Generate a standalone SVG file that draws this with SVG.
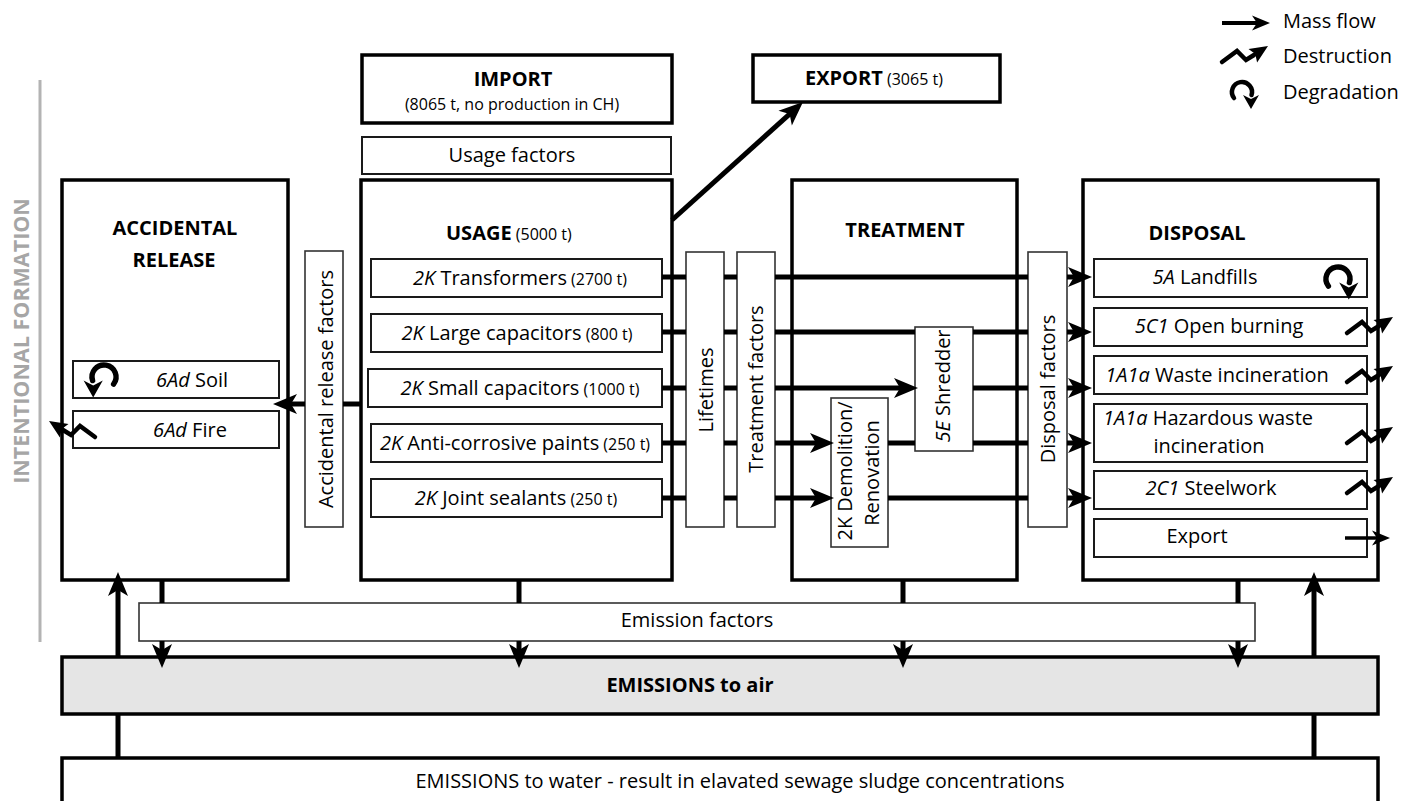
<svg xmlns="http://www.w3.org/2000/svg" width="1413" height="801" viewBox="0 0 1413 801">
<style>
text { font-family: "Open Sans", "Liberation Sans", sans-serif; fill: #000; }
.t { font-size: 20px; }
.s { font-size: 16px; }
.b { font-weight: bold; }
.n { font-weight: normal; }
.i { font-style: italic; }
.mid { text-anchor: middle; }
.box { fill: #fff; stroke: #000; stroke-width: 3.5; }
.item { fill: #fff; stroke: #1a1a1a; stroke-width: 2; }
.fac { fill: #fff; stroke: #333; stroke-width: 1.6; }
.flow { fill: none; stroke: #000; stroke-width: 5; }
.thin { fill: none; stroke: #000; stroke-width: 3.5; }
.ico { fill: none; stroke: #000; stroke-width: 4.5; stroke-linecap: round; stroke-linejoin: miter; }
</style>
<defs>
<marker id="ah" viewBox="-12 -12 28 24" refX="0" refY="0" markerWidth="28" markerHeight="24" markerUnits="userSpaceOnUse" orient="auto">
<path d="M14,0 L-10,-10 L-4,0 L-10,10 Z" fill="#000"/>
</marker>
<marker id="ahs" viewBox="-10 -9 22 18" refX="0" refY="0" markerWidth="22" markerHeight="18" markerUnits="userSpaceOnUse" orient="auto">
<path d="M10,0 L-8,-7.5 L-3,0 L-8,7.5 Z" fill="#000"/>
</marker>
<g id="destr">
<path class="ico" d="M0,0 L15,-11 L24,-2 L32,-7"/>
<path d="M46,-16 L35.1,0.45 L33.3,-7.9 L26.5,-13.05 Z" fill="#000"/>
</g>
<g id="degr">
<path class="ico" d="M-8,6 A10,10 0 1 1 9.5,3"/>
<path d="M9,17 L1,3 L9,7 L17,3 Z" fill="#000"/>
</g>
</defs>

<g id="intentional-formation">
<line x1="40" y1="80" x2="40" y2="642" stroke="#b3b3b3" stroke-width="3"/>
<text class="b mid" font-size="21.5" style="fill:#a6a6a6" transform="translate(29,341) rotate(-90)">INTENTIONAL FORMATION</text>
</g>

<g id="legend">
<line x1="1222" y1="23" x2="1260" y2="23" stroke="#000" stroke-width="4" marker-end="url(#ahs)"/>
<text class="t" x="1283" y="28">Mass flow</text>
<use href="#destr" transform="translate(1222,62)"/>
<text class="t" x="1283" y="63">Destruction</text>
<use href="#degr" transform="translate(1242,92)"/>
<text class="t" x="1283" y="99">Degradation</text>
</g>

<g id="import">
<rect class="box" x="362" y="55" width="310" height="68"/>
<text class="t b mid" x="513" y="86">IMPORT</text>
<text class="s mid" x="512" y="110">(8065 t, no production in CH)</text>
</g>

<g id="export">
<rect class="box" x="753" y="55" width="247" height="47"/>
<text class="t b" x="805" y="85">EXPORT<tspan class="s n"> (3065 t)</tspan></text>
</g>

<g id="usage-factors">
<rect class="item" x="362" y="137" width="309" height="37"/>
<text class="t mid" x="512" y="162">Usage factors</text>
</g>

<g id="accidental-release">
<rect class="box" x="62" y="180" width="226" height="400"/>
<text class="t b mid" x="175" y="235">ACCIDENTAL</text>
<text class="t b mid" x="174" y="267">RELEASE</text>
</g>
<g id="soil">
<rect class="item" x="73" y="361" width="206" height="37"/>
<text class="t mid" x="192" y="387"><tspan class="i">6Ad</tspan> Soil</text>
</g>
<g id="fire">
<rect class="item" x="73" y="411" width="206" height="37"/>
<text class="t mid" x="190" y="437"><tspan class="i">6Ad</tspan> Fire</text>
</g>

<g id="accidental-release-factors">
<rect class="fac" x="305" y="251" width="38" height="276"/>
<text class="t mid" transform="translate(333,389) rotate(-90)">Accidental release factors</text>
</g>

<g id="usage">
<rect class="box" x="361" y="180" width="311" height="400"/>
<text class="t b" x="446" y="240">USAGE<tspan class="s n"> (5000 t)</tspan></text>
</g>
<g id="transformers">
<rect class="item" x="371" y="259" width="291" height="38"/>
<text class="t mid" x="520" y="285"><tspan class="i">2K</tspan> Transformers<tspan class="s"> (2700 t)</tspan></text>
</g>
<g id="large-capacitors">
<rect class="item" x="371" y="314" width="291" height="38"/>
<text class="t mid" x="517" y="340"><tspan class="i">2K</tspan> Large capacitors<tspan class="s"> (800 t)</tspan></text>
</g>
<g id="small-capacitors">
<rect class="item" x="368" y="369" width="294" height="38"/>
<text class="t mid" x="520" y="395"><tspan class="i">2K</tspan> Small capacitors<tspan class="s"> (1000 t)</tspan></text>
</g>
<g id="paints">
<rect class="item" x="371" y="424" width="291" height="38"/>
<text class="t mid" x="515" y="450"><tspan class="i">2K</tspan> Anti-corrosive paints<tspan class="s"> (250 t)</tspan></text>
</g>
<g id="sealants">
<rect class="item" x="371" y="479" width="291" height="38"/>
<text class="t mid" x="516" y="505"><tspan class="i">2K</tspan> Joint sealants<tspan class="s"> (250 t)</tspan></text>
</g>

<g id="lifetimes">
<rect class="fac" x="686" y="252" width="38" height="275"/>
<text class="t mid" transform="translate(713,390) rotate(-90)">Lifetimes</text>
</g>
<g id="treatment-factors">
<rect class="fac" x="737" y="252" width="38" height="275"/>
<text class="t mid" transform="translate(763,389) rotate(-90)">Treatment factors</text>
</g>

<g id="treatment">
<rect class="box" x="792" y="180" width="225" height="400"/>
<text class="t b mid" x="905" y="237">TREATMENT</text>
</g>
<g id="demolition">
<rect class="fac" x="831" y="398" width="57" height="149"/>
<text class="t mid" transform="translate(852,471) rotate(-90)">2K Demolition/</text>
<text class="t mid" transform="translate(879,473) rotate(-90)">Renovation</text>
</g>
<g id="shredder">
<rect class="fac" x="915" y="327" width="58" height="124"/>
<text class="t mid" transform="translate(950,386) rotate(-90)"><tspan class="i">5E</tspan> Shredder</text>
</g>

<g id="disposal-factors">
<rect class="fac" x="1028" y="252" width="39" height="275"/>
<text class="t mid" transform="translate(1055,389) rotate(-90)">Disposal factors</text>
</g>

<g id="disposal">
<rect class="box" x="1083" y="180" width="295" height="400"/>
<text class="t b mid" x="1197" y="240">DISPOSAL</text>
</g>
<g id="landfills">
<rect class="item" x="1094" y="259" width="273" height="38"/>
<text class="t mid" x="1205" y="284"><tspan class="i">5A</tspan> Landfills</text>
</g>
<g id="open-burning">
<rect class="item" x="1094" y="308" width="273" height="38"/>
<text class="t mid" x="1219" y="333"><tspan class="i">5C1</tspan> Open burning</text>
</g>
<g id="waste-incineration">
<rect class="item" x="1094" y="356" width="273" height="38"/>
<text class="t mid" x="1217" y="382"><tspan class="i">1A1a</tspan> Waste incineration</text>
</g>
<g id="hazardous-incineration">
<rect class="item" x="1094" y="404" width="273" height="58"/>
<text class="t mid" x="1208" y="425"><tspan class="i">1A1a</tspan> Hazardous waste</text>
<text class="t mid" x="1209" y="453">incineration</text>
</g>
<g id="steelwork">
<rect class="item" x="1094" y="471" width="273" height="38"/>
<text class="t mid" x="1211" y="495"><tspan class="i">2C1</tspan> Steelwork</text>
</g>
<g id="disposal-export">
<rect class="item" x="1094" y="519" width="273" height="38"/>
<text class="t mid" x="1197" y="543">Export</text>
</g>

<g id="emission-factors">
<rect class="fac" x="139" y="603" width="1116" height="38"/>
<text class="t mid" x="697" y="627">Emission factors</text>
</g>
<g id="emissions-air">
<rect x="62" y="657" width="1316" height="57" fill="#e5e5e5" stroke="#000" stroke-width="3.5"/>
<text class="t b mid" x="690" y="692">EMISSIONS to air</text>
</g>
<g id="emissions-water">
<rect class="box" x="62" y="758" width="1316" height="70" stroke-width="3"/>
<text class="t mid" x="740" y="788">EMISSIONS to water - result in elavated sewage sludge concentrations</text>
</g>

<g id="connectors">
<path class="flow" d="M662,277 H686 M724,277 H737 M775,277 H1028"/>
<path class="flow" d="M1067,277 H1078" marker-end="url(#ah)"/>
<path class="flow" d="M662,332 H686 M724,332 H737 M775,332 H915 M973,332 H1028"/>
<path class="flow" d="M1067,332 H1078" marker-end="url(#ah)"/>
<path class="flow" d="M662,388 H686 M724,388 H737"/>
<path class="flow" d="M775,388 H904" marker-end="url(#ah)"/>
<path class="flow" d="M973,388 H1028"/>
<path class="flow" d="M1067,388 H1078" marker-end="url(#ah)"/>
<path class="flow" d="M662,443 H686 M724,443 H737"/>
<path class="flow" d="M775,443 H820" marker-end="url(#ah)"/>
<path class="flow" d="M888,443 H915 M973,443 H1028"/>
<path class="flow" d="M1067,443 H1078" marker-end="url(#ah)"/>
<path class="flow" d="M662,498 H686 M724,498 H737"/>
<path class="flow" d="M775,498 H820" marker-end="url(#ah)"/>
<path class="flow" d="M888,498 H1028"/>
<path class="flow" d="M1067,498 H1078" marker-end="url(#ah)"/>
<path class="flow" d="M672,220 L792.6,111.4" marker-end="url(#ah)"/>
<path class="flow" d="M361,404 H343"/>
<path class="flow" d="M305,404 H287" marker-end="url(#ah)"/>
<path class="flow" d="M162,580 V603 M519,580 V603 M903,580 V603 M1238,580 V603"/>
<path class="flow" d="M162,641 V654" marker-end="url(#ah)"/>
<path class="flow" d="M519,641 V654" marker-end="url(#ah)"/>
<path class="flow" d="M903,641 V654" marker-end="url(#ah)"/>
<path class="flow" d="M1238,641 V654" marker-end="url(#ah)"/>
<path class="flow" d="M118,758 V714 M1314,758 V714"/>
<path class="flow" d="M118,657 V586" marker-end="url(#ah)"/>
<path class="flow" d="M1314,657 V586" marker-end="url(#ah)"/>
<path class="thin" d="M1345,538 H1380" marker-end="url(#ahs)"/>
<use href="#destr" transform="translate(1347,333)"/>
<use href="#destr" transform="translate(1347,382)"/>
<use href="#destr" transform="translate(1347,443)"/>
<use href="#destr" transform="translate(1347,493)"/>
<use href="#destr" transform="translate(95,437) scale(-1,1)"/>
<use href="#degr" transform="translate(1338,279) scale(1.2)"/>
<use href="#degr" transform="translate(104,377) scale(-1.2,1.2)"/>
</g>
</svg>
